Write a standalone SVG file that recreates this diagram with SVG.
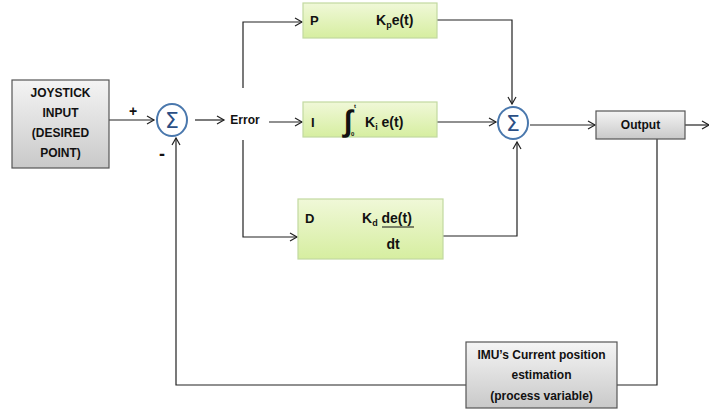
<svg xmlns="http://www.w3.org/2000/svg" width="709" height="411" viewBox="0 0 709 411">
<defs>
<linearGradient id="gray" x1="0" y1="0" x2="0" y2="1"><stop offset="0" stop-color="#f4f4f4"/><stop offset="1" stop-color="#c9c9c9"/></linearGradient>
<linearGradient id="green" x1="0" y1="0" x2="0" y2="1"><stop offset="0" stop-color="#f0f8d8"/><stop offset="1" stop-color="#d6eea0"/></linearGradient>
<marker id="arr" markerWidth="10" markerHeight="10" refX="8" refY="5" orient="auto" markerUnits="userSpaceOnUse"><path d="M1,1 L8,5 L1,9" fill="none" stroke="#222" stroke-width="1.2"/></marker>
</defs>
<style>
text{font-family:"Liberation Sans",Arial,sans-serif;font-weight:bold;fill:#111}
.gbox{fill:url(#gray);stroke:#555;stroke-width:1.2}
.pbox{fill:url(#green);stroke:#c2d9a0;stroke-width:1.2}
.sum{fill:#fff;stroke:#4a78ad;stroke-width:2}
.sig{font-family:"DejaVu Sans",sans-serif;font-weight:normal;font-size:22px;fill:#2b4f85}
.c{stroke:#222;stroke-width:1.2;fill:none}
.lbl{font-size:12px}
</style>
<rect width="709" height="411" fill="#fff"/>
<g id="connectors">
<path class="c" d="M109,120 H154" marker-end="url(#arr)"/>
<path class="c" d="M195,120 H224" marker-end="url(#arr)"/>
<path class="c" d="M269,122 H302" marker-end="url(#arr)"/>
<path class="c" d="M243,88 V22 H302" marker-end="url(#arr)"/>
<path class="c" d="M243,140 V237 H297" marker-end="url(#arr)"/>
<path class="c" d="M437,20 H512 V104" marker-end="url(#arr)"/>
<path class="c" d="M437,122 H496" marker-end="url(#arr)"/>
<path class="c" d="M443,236 H517 V142" marker-end="url(#arr)"/>
<path class="c" d="M530,125 H595" marker-end="url(#arr)"/>
<path class="c" d="M685,125 H709" marker-end="url(#arr)"/>
<path class="c" d="M657,139 V385 H617"/>
<path class="c" d="M466,385 H176 V138" marker-end="url(#arr)"/>
</g>
<g id="joystick">
<rect class="gbox" x="12" y="80" width="97" height="88"/>
<text class="lbl" x="60.5" y="97" text-anchor="middle">JOYSTICK</text>
<text class="lbl" x="60.5" y="117" text-anchor="middle">INPUT</text>
<text class="lbl" x="60.5" y="137" text-anchor="middle">(DESIRED</text>
<text class="lbl" x="60.5" y="157" text-anchor="middle">POINT)</text>
</g>
<g id="sum1">
<ellipse class="sum" cx="172" cy="120" rx="15" ry="16"/>
<text class="sig" x="172" y="128" text-anchor="middle">Σ</text>
<text x="133" y="116" font-size="14" text-anchor="middle">+</text>
<text x="162" y="160" font-size="18" text-anchor="middle">-</text>
</g>
<g id="error">
<text x="245" y="124" font-size="12" text-anchor="middle">Error</text>
</g>
<g id="P">
<rect class="pbox" x="303" y="3" width="134" height="35"/>
<text x="310" y="25" font-size="13">P</text>
<text x="376" y="25" font-size="14">K<tspan font-size="9" dy="3">p</tspan><tspan dy="-3">e(t)</tspan></text>
</g>
<g id="I">
<rect class="pbox" x="303" y="102" width="134" height="35"/>
<text x="311" y="127" font-size="13">I</text>
<text x="344" y="131" font-size="30" font-weight="normal" font-family="Liberation Serif,serif">∫</text>
<text x="354" y="108" font-size="6" font-weight="normal">t</text>
<text x="351" y="136" font-size="6" font-weight="normal">0</text>
<text x="365" y="127" font-size="14">K<tspan font-size="9" dy="3">i</tspan><tspan dy="-3"> e(t)</tspan></text>
</g>
<g id="D">
<rect class="pbox" x="298" y="199" width="145" height="60"/>
<text x="305" y="223" font-size="13">D</text>
<text x="362" y="223" font-size="14">K<tspan font-size="9" dy="3">d</tspan><tspan dy="-3"> de(t)</tspan></text>
<line x1="382" y1="227" x2="414" y2="227" stroke="#111" stroke-width="1"/>
<text x="393" y="249" font-size="14" text-anchor="middle">dt</text>
</g>
<g id="sum2">
<ellipse class="sum" cx="513" cy="123" rx="15" ry="16"/>
<text class="sig" x="513" y="131" text-anchor="middle">Σ</text>
</g>
<g id="output">
<rect class="gbox" x="596" y="111" width="89" height="28"/>
<text x="640.5" y="129" font-size="12" text-anchor="middle">Output</text>
</g>
<g id="imu">
<rect class="gbox" x="466" y="342" width="151" height="66"/>
<text x="541.5" y="359" font-size="12" text-anchor="middle">IMU’s Current position</text>
<text x="541.5" y="379" font-size="12" text-anchor="middle">estimation</text>
<text x="541.5" y="400" font-size="12" text-anchor="middle">(process variable)</text>
</g>
</svg>
